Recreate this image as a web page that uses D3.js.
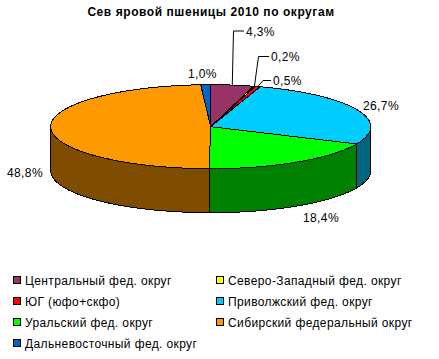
<!DOCTYPE html>
<html><head><meta charset="utf-8">
<script src="https://cdn.jsdelivr.net/npm/d3@7/dist/d3.min.js"></script>
<style>html,body{margin:0;padding:0;background:#fff}svg{display:block}
text{font-family:"Liberation Sans",Arial,sans-serif;font-size:12px;fill:#000;letter-spacing:.38px}</style>
</head><body><svg id="c" width="439" height="359"></svg>
<script>
const titleText = "Сев яровой пшеницы 2010 по округам";
const categories = ["Центральный фед. округ","Северо-Западный фед. округ","ЮГ (юфо+скфо)","Приволжский фед. округ","Уральский фед. округ","Сибирский федеральный округ","Дальневосточный фед. округ"];
const values = [4.3,0.2,0.5,26.7,18.4,48.8,1.0];
const colors = ["#993366","#ffff00","#ff0000","#00ccff","#00ff00","#ff9900","#0066cc"];
const legendOrder = [0,1,2,3,4,5,6];

const W=439,H=359,cx=210.7,cy=126.7,rx=160,ry=42,depth=44;
const svg=d3.select("#c");
const fmt=v=>v.toFixed(1).replace(".",",")+"%";
const pie=d3.pie().sort(null).value(d=>d)(values);
const px=d3.scaleLinear().domain([-1,1]).range([cx-rx,cx+rx]);
const py=d3.scaleLinear().domain([-1,1]).range([cy-ry,cy+ry]);
const pt=(a,dz=0)=>[px(Math.sin(a)),py(-Math.cos(a))+dz];
function arcPts(a0,a1,dz=0){const n=Math.max(2,Math.ceil((a1-a0)/0.01));
  return d3.range(n+1).map(i=>pt(a0+(a1-a0)*i/n,dz));}
const line=d3.line();
const g=svg.append("g").attr("shape-rendering","crispEdges");
const half=c=>{const r=d3.rgb(c);return d3.rgb(r.r/2,r.g/2,r.b/2).formatHex();};

// side walls (front half only)
const sides=pie.map((s,i)=>{const a0=Math.max(s.startAngle,Math.PI/2),a1=Math.min(s.endAngle,Math.PI*1.5);
  return a1>a0?{a0,a1,i}:null;}).filter(Boolean);
g.selectAll("path.side").data(sides).join("path").attr("class","side")
 .attr("d",d=>line([...arcPts(d.a0,d.a1),...arcPts(d.a0,d.a1,depth).reverse()])+"Z")
 .attr("fill",d=>half(colors[d.i]))
 .attr("stroke","#000").attr("stroke-width",1);

// top
g.selectAll("path.top").data(pie).join("path").attr("class","top")
 .attr("d",d=>line([[cx,cy],...arcPts(d.startAngle,d.endAngle)])+"Z")
 .attr("fill",(d,i)=>colors[i]).attr("stroke","#000").attr("stroke-width",1);

// leader lines
const leaders=[{i:0,pts:[[233.5,31],[244,31]]},{i:1,pts:[[258.5,56.5],[269,56.5]]},{i:2,pts:[[263,80.5],[271,80.5]]}];
svg.append("g").selectAll("path").data(leaders).join("path")
 .attr("d",d=>{const s=pie[d.i];return line([pt((s.startAngle+s.endAngle)/2),...d.pts]);})
 .attr("fill","none").attr("stroke","#000").attr("stroke-width",1);

// labels
const labelPos=[[246,36],[271,61],[273,85],[363,110],[303,222],[7,177],[188,78]];
svg.append("g").selectAll("text").data(values).join("text")
 .attr("x",(d,i)=>labelPos[i][0]).attr("y",(d,i)=>labelPos[i][1]).text(fmt);

svg.append("text").attr("x",211).attr("y",16).attr("text-anchor","middle")
 .style("font-weight","bold").style("font-size","12px").style("letter-spacing","0.56px").text(titleText);

// legend
const cols=[13.5,216.5],rows=[280,301,322,343];
const slots=[[0,0],[1,0],[0,1],[1,1],[0,2],[1,2],[0,3]];
const leg=svg.append("g").selectAll("g").data(legendOrder).join("g")
 .attr("transform",(d,i)=>`translate(${cols[slots[i][0]]},${rows[slots[i][1]]})`);
leg.append("rect").attr("x",0).attr("y",-3.5).attr("width",7).attr("height",7)
 .attr("fill",d=>colors[d]).attr("stroke","#000").attr("shape-rendering","crispEdges");
leg.append("text").attr("x",11.5).attr("y",4.5).text(d=>categories[d]);
</script></body></html>
